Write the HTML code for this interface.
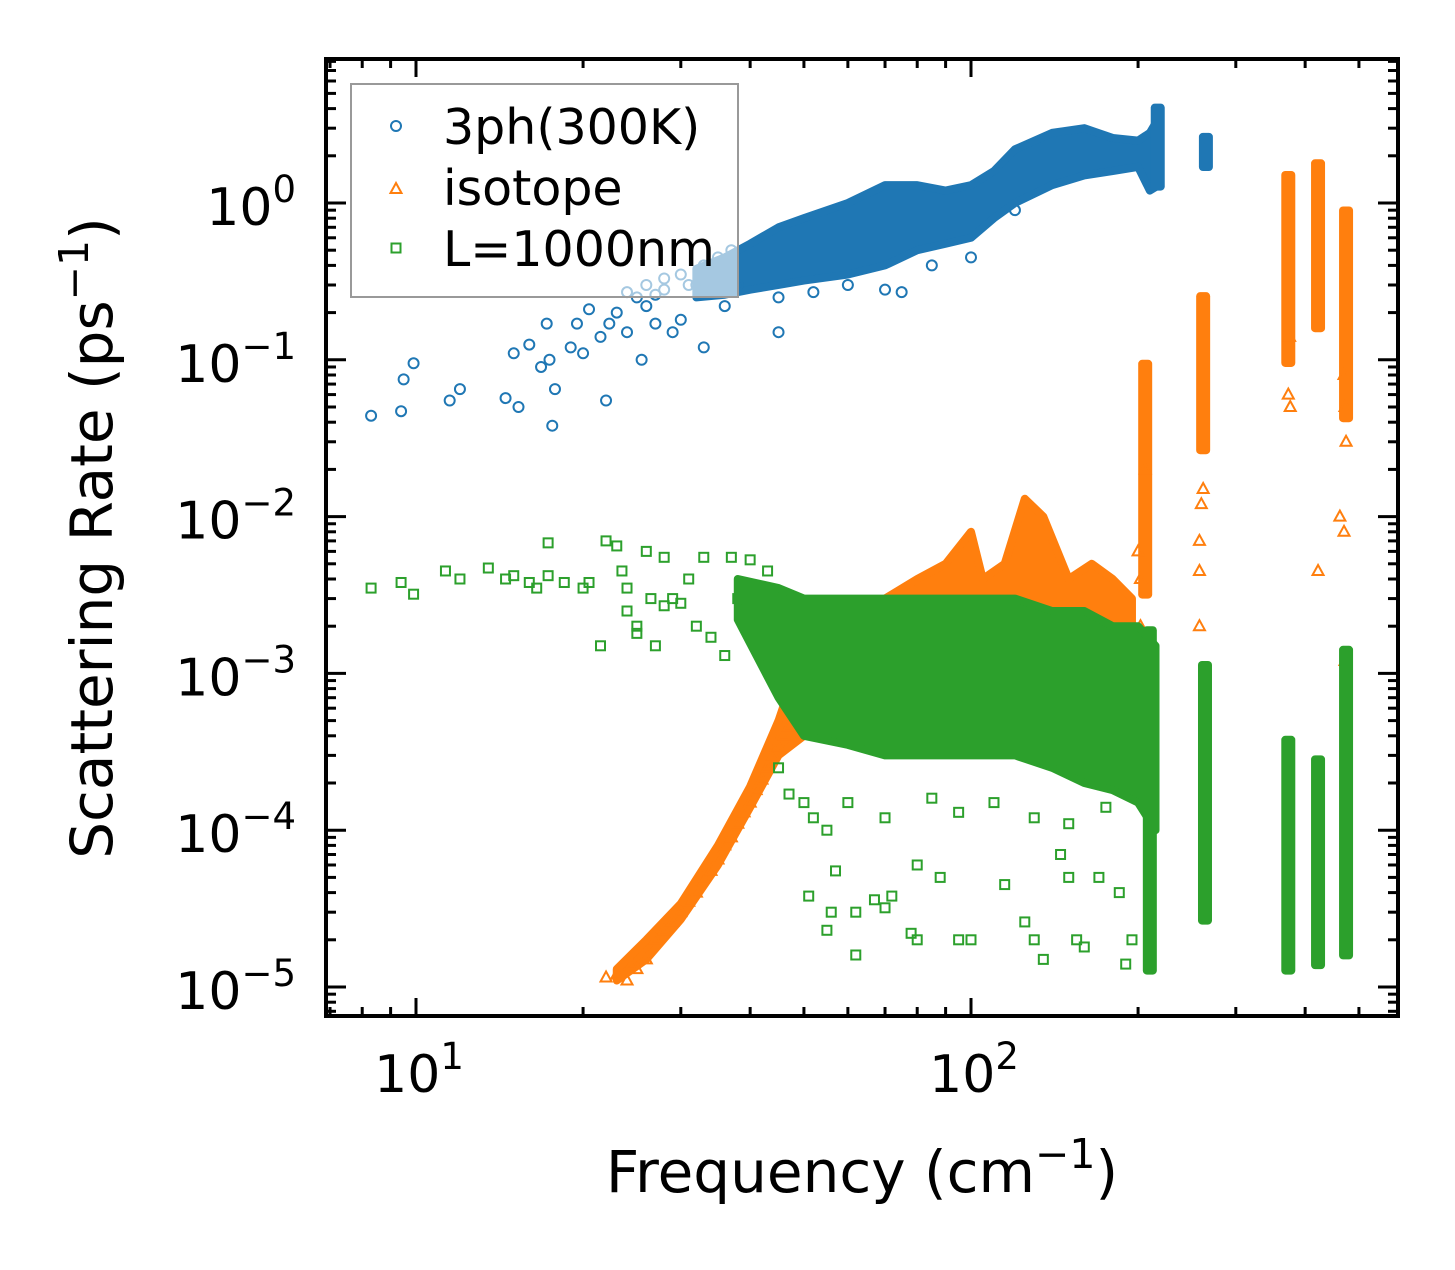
<!DOCTYPE html>
<html><head><meta charset="utf-8"><style>
body{margin:0;background:#fff}
svg text{font-family:"DejaVu Sans","Liberation Sans",sans-serif;fill:#000}
</style></head><body>
<svg id="chart" width="1455" height="1265" xmlns="http://www.w3.org/2000/svg">
<rect width="1455" height="1265" fill="#fff"/>
<g id="data"></g>
<g id="axes"></g>
</svg>
<script>
// ---- data ----
const blueF=[8.3,9.4,9.5,9.9,11.5,12,14.5,15,15.3,16,16.8,17.2,17.4,17.6,17.8,19,19.5,20,20.5,22,21.5,22.3,23,24,25,26,25.5,27,28,29,30,32,33,36,38,45,45,52,60,70,75,85,100,120,24,26,27,28,30,31,33,35,37];
const blueR=[0.044,0.047,0.075,0.095,0.055,0.065,0.057,0.11,0.05,0.125,0.09,0.17,0.1,0.038,0.065,0.12,0.17,0.11,0.21,0.055,0.14,0.17,0.2,0.15,0.25,0.22,0.1,0.17,0.28,0.15,0.18,0.3,0.12,0.22,0.3,0.15,0.25,0.27,0.3,0.28,0.27,0.4,0.45,0.9,0.27,0.3,0.26,0.33,0.35,0.3,0.4,0.45,0.5];
const blueBandF=[32,36,40,45,50,60,70,80,90,100,110,120,140,160,180,200,210,218];
const blueBandLo=[0.25,0.26,0.28,0.3,0.32,0.35,0.4,0.5,0.55,0.6,0.8,1.0,1.3,1.5,1.6,1.7,1.2,1.3];
const blueBandHi=[0.38,0.45,0.55,0.7,0.8,1.0,1.3,1.3,1.2,1.3,1.6,2.2,2.8,3.0,2.6,2.5,2.8,3.5];
const blueColF=[217,265];
const blueColLo=[1.2,1.6];
const blueColHi=[4.3,2.8];

const orgF=[22,23,24,24.5,25,26,27,28,29,30,31,32,33,34,35,36,37,38,39,40,41,42,43,44,45,46,47,48,202,258,258,258,376,422,462,470,472,202,200,373,375,470,472,474,262,260,206];
const orgR=[1.15e-5,1.2e-5,1.1e-5,1.4e-5,1.3e-5,1.5e-5,2e-5,2.3e-5,2.6e-5,3e-5,3.5e-5,4e-5,5e-5,5.5e-5,6.5e-5,8e-5,9e-5,1.1e-4,1.3e-4,1.5e-4,1.8e-4,2.1e-4,2.5e-4,3e-4,3.4e-4,4e-4,4.6e-4,5e-4,2e-3,2e-3,4.5e-3,7e-3,0.05,4.5e-3,1e-2,8e-3,1.2e-3,0.004,0.006,0.06,0.14,0.08,0.05,0.03,0.015,0.012,0.02];
const orgBandF=[23,26,30,35,40,45,50,60,70,80,90,100,105,115,125,135,150,165,180,195];
const orgBandLo=[1.1e-5,1.5e-5,2.7e-5,6e-5,1.4e-4,3e-4,4e-4,6e-4,7e-4,8e-4,9e-4,1e-3,1e-3,1e-3,1e-3,1e-3,1e-3,1e-3,1e-3,1e-3];
const orgBandHi=[1.3e-5,2e-5,3.4e-5,8e-5,1.9e-4,5e-4,1.5e-3,2.5e-3,3e-3,4e-3,5e-3,8e-3,4e-3,5e-3,1.3e-2,1e-2,4e-3,5e-3,4e-3,3e-3];
const orgColF=[206,262,373,422,474];
const orgColLo=[3e-3,0.025,0.09,0.15,0.04];
const orgColHi=[0.1,0.27,1.6,1.9,0.95];

const grnF=[8.3,9.4,9.9,11.3,12,13.5,14.5,15,16,16.5,17.3,17.3,18.5,20,20.5,21.5,22,23,23.5,24,24,25,25,26,26.5,27,28,28,29,30,31,32,33,34,36,37,38,40,43,45,47,50,52,55,57,51,55,56,62,62,67,70,72,78,80,95,100,80,88,115,125,130,135,155,160,150,145,170,185,190,195,60,70,85,95,110,130,150,175];
const grnR=[3.5e-3,3.8e-3,3.2e-3,4.5e-3,4e-3,4.7e-3,4e-3,4.2e-3,3.8e-3,3.5e-3,6.8e-3,4.2e-3,3.8e-3,3.5e-3,3.8e-3,1.5e-3,7e-3,6.5e-3,4.5e-3,3.5e-3,2.5e-3,2e-3,1.8e-3,6e-3,3e-3,1.5e-3,5.5e-3,2.7e-3,3e-3,2.8e-3,4e-3,2e-3,5.5e-3,1.7e-3,1.3e-3,5.5e-3,3e-3,5.3e-3,4.5e-3,2.5e-4,1.7e-4,1.5e-4,1.2e-4,1e-4,5.5e-5,3.8e-5,2.3e-5,3e-5,1.6e-5,3e-5,3.6e-5,3.2e-5,3.8e-5,2.2e-5,2e-5,2e-5,2e-5,6e-5,5e-5,4.5e-5,2.6e-5,2e-5,1.5e-5,2e-5,1.8e-5,5e-5,7e-5,5e-5,4e-5,1.4e-5,2e-5,1.5e-4,1.2e-4,1.6e-4,1.3e-4,1.5e-4,1.2e-4,1.1e-4,1.4e-4];
const grnBandF=[38,45,50,60,70,80,90,100,110,120,140,160,180,200,215];
const grnBandLo=[2.2e-3,7e-4,4e-4,3.5e-4,3e-4,3e-4,3e-4,3e-4,3e-4,3e-4,2.5e-4,2e-4,1.8e-4,1.5e-4,1e-4];
const grnBandHi=[4e-3,3.5e-3,3e-3,3e-3,3e-3,3e-3,3e-3,3e-3,3e-3,3e-3,2.5e-3,2.5e-3,2e-3,2e-3,1.5e-3];
const grnColF=[210,264,373,422,474];
const grnColLo=[1.2e-5,2.5e-5,1.2e-5,1.3e-5,1.5e-5];
const grnColHi=[2e-3,1.2e-3,4e-4,3e-4,1.5e-3];

// ---- axes ----
const X0=971, XD=555, Y0=203, YD=156.8;
const L=326, R=1398, T=59, B=1016;
const px=f=>X0+XD*(Math.log10(f)-2);
const py=r=>Y0-YD*Math.log10(r);
const NS='http://www.w3.org/2000/svg';
const dataG=document.getElementById('data'), axG=document.getElementById('axes');
function mk(tag,attrs,parent){const e=document.createElementNS(NS,tag);for(const k in attrs)e.setAttribute(k,attrs[k]);parent.appendChild(e);return e;}

const BLUE='#1f77b4', ORG='#ff7f0e', GRN='#2ca02c';
function band(F,Lo,Hi,color,name){
  let pts=F.map((f,i)=>px(f)+','+py(Hi[i]));
  for(let i=F.length-1;i>=0;i--)pts.push(px(F[i])+','+py(Lo[i]));
  const p=mk('polygon',{points:pts.join(' '),fill:color,stroke:color,'stroke-width':8,'stroke-linejoin':'round'},dataG);
  
  
}
function cols(F,Lo,Hi,color,name){
  F.forEach((f,i)=>{
    const r=mk('rect',{x:px(f)-7,y:py(Hi[i]),width:14,height:py(Lo[i])-py(Hi[i]),fill:color,rx:4},dataG);
    
    
  });
}
function marker(type,x,y,color,parent){
  let e;
  if(type==='o')e=mk('circle',{cx:x,cy:y,r:5,fill:'none',stroke:color,'stroke-width':2},parent);
  else if(type==='^')e=mk('polygon',{points:`${x},${y-6} ${x-5.5},${y+4} ${x+5.5},${y+4}`,fill:'none',stroke:color,'stroke-width':2},parent);
  else e=mk('rect',{x:x-4.5,y:y-4.5,width:9,height:9,fill:'none',stroke:color,'stroke-width':2},parent);
  return e;
}
function pts(F,Rv,type,color,name){
  F.forEach((f,i)=>{
    const e=marker(type,px(f),py(Rv[i]),color,dataG);
    
    
  });
}
band(blueBandF,blueBandLo,blueBandHi,BLUE,'3ph-dense-band');
cols(blueColF,blueColLo,blueColHi,BLUE,'3ph-column');
pts(blueF,blueR,'o',BLUE,'3ph-point');
band(orgBandF,orgBandLo,orgBandHi,ORG,'isotope-dense-band');
cols(orgColF,orgColLo,orgColHi,ORG,'isotope-column');
pts(orgF,orgR,'^',ORG,'isotope-point');
band(grnBandF,grnBandLo,grnBandHi,GRN,'boundary-dense-band');
cols(grnColF,grnColLo,grnColHi,GRN,'boundary-column');
pts(grnF,grnR,'s',GRN,'boundary-point');

// ticks
for(let d=0;d<=2;d++)for(let m=1;m<=9;m++){
  const x=px(m*Math.pow(10,d));
  if(x<L||x>R)continue;
  const len=m===1?18:9;
  mk('line',{x1:x,y1:B,x2:x,y2:B-len,stroke:'#000','stroke-width':3},axG);
  mk('line',{x1:x,y1:T,x2:x,y2:T+len,stroke:'#000','stroke-width':3},axG);
}
for(let d=-6;d<=0;d++)for(let m=1;m<=9;m++){
  const y=py(m*Math.pow(10,d));
  if(y<T||y>B)continue;
  const len=m===1?20:10;
  mk('line',{x1:L,y1:y,x2:L+len,y2:y,stroke:'#000','stroke-width':3},axG);
  mk('line',{x1:R,y1:y,x2:R-len,y2:y,stroke:'#000','stroke-width':3},axG);
}
const frame=mk('rect',{x:L,y:T,width:R-L,height:B-T,fill:'none',stroke:'#000','stroke-width':4},axG);



const xTickExp=[1,2];
const yTickExp=[0,-1,-2,-3,-4,-5];
xTickExp.forEach(e=>{
  const t=mk('text',{x:px(Math.pow(10,e))+3,y:1092,'font-size':52,'text-anchor':'middle'},axG);
  t.innerHTML='10<tspan dy="-23" font-size="37">'+e+'</tspan>';
  
  
});
yTickExp.forEach(e=>{
  const t=mk('text',{x:296,y:py(Math.pow(10,e))+22,'font-size':52,'text-anchor':'end'},axG);
  t.innerHTML='10<tspan dy="-23" font-size="37">'+(e===0?'0':'\u2212'+(-e))+'</tspan>';
  
  
});
const xt=mk('text',{x:862,y:1192,'font-size':58,'text-anchor':'middle'},axG);
xt.innerHTML='Frequency (cm<tspan dy="-24" font-size="41">\u22121</tspan><tspan dy="24">)</tspan>';


const yt=mk('text',{x:0,y:0,'font-size':58,'text-anchor':'middle',transform:'translate(112,538) rotate(-90)'},axG);
yt.innerHTML='Scattering Rate (ps<tspan dy="-24" font-size="41">\u22121</tspan><tspan dy="24">)</tspan>';



// legend
const lg=mk('g',{},axG);


mk('rect',{x:351,y:84,width:387,height:213,fill:'#fff','fill-opacity':0.6,stroke:'#999','stroke-width':2},lg);
const legNames=['3ph(300K)','isotope','L=1000nm'];
const legTypes=['o','^','s'];
const legCols=[BLUE,ORG,GRN];
legNames.forEach((n,i)=>{
  const y=126+i*61;
  const m=marker(legTypes[i],396,y+(i===1?2:0),legCols[i],lg);
  
  
  const t=mk('text',{x:443,y:y+18,'font-size':49},lg);
  t.textContent=n;
  
  
});
</script>
</body></html>
